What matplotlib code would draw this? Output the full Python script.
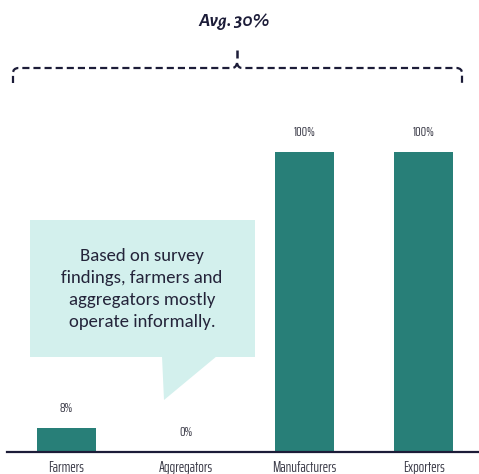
import matplotlib
matplotlib.use("Agg")
import matplotlib.pyplot as plt
from matplotlib.path import Path
from matplotlib.patches import PathPatch, Polygon, Rectangle

# Share of businesses operating formally, by value-chain actor
categories = ["Farmers", "Aggregators", "Manufacturers", "Exporters"]
formal_share = [8, 0, 100, 100]
value_labels = ["8%", "0%", "100%", "100%"]
average_label = "Avg. 30%"
note_text = "Based on survey\nfindings, farmers and\naggregators mostly\noperate informally."

BAR_COLOR = "#287f78"
NAVY = "#1c1c38"
TEXT_GREY = "#3b3b48"
CALLOUT = "#d3f0ed"
NARROW = ["Saira ExtraCondensed", "Saira Condensed", "DejaVu Sans"]
BODY = ["Carlito", "Lato", "DejaVu Sans"]
HEAD = ["Alegreya Sans", "Lato", "DejaVu Sans"]

W, H = 479, 474
fig = plt.figure(figsize=(W / 100, H / 100), dpi=100)

# Main chart: full-figure axes, scaled so bars sit on the baseline
ax = fig.add_axes([0, 0, 1, 1])
step = 119.0
x0 = 66.5
ax.set_xlim(-x0 / step, (W - x0) / step)
ax.set_ylim(-(H - 452) / 3.0, 452 / 3.0)
ax.axis("off")

xs = list(range(len(categories)))
ax.bar(xs, formal_share, width=0.5, color=BAR_COLOR, zorder=2)
ax.axhline(0, xmin=7 / W, xmax=1, color=NAVY, lw=1.6, zorder=3)

for x, v, lab in zip(xs, formal_share, value_labels):
    ax.text(x, v + 6.5, lab, ha="center", va="center", fontsize=10,
            family=NARROW, color=TEXT_GREY)
for x, cat in zip(xs, categories):
    ax.text(x, -5.2, cat, ha="center", va="center", fontsize=10.5,
            family=NARROW, color=TEXT_GREY)

# Overlay in pixel coordinates for the bracket and callout
ov = fig.add_axes([0, 0, 1, 1], facecolor="none")
ov.set_xlim(0, W)
ov.set_ylim(H, 0)
ov.axis("off")

# Dashed curly bracket spanning all categories
L, R, yb, ye, cx = 13, 462, 68, 83, 237
verts = [
    (L, ye), (L, 73), (L, 68.5), (L + 5, yb),
    (cx - 5, yb), (cx - 1, yb), (cx, 63), (cx, 63), (cx + 1, yb), (cx + 5, yb),
    (R - 5, yb), (R, 68.5), (R, 73), (R, ye),
]
codes = [
    Path.MOVETO, Path.LINETO, Path.CURVE3, Path.CURVE3,
    Path.LINETO, Path.CURVE3, Path.CURVE3, Path.MOVETO, Path.CURVE3, Path.CURVE3,
    Path.LINETO, Path.CURVE3, Path.CURVE3, Path.LINETO,
]
ov.add_patch(PathPatch(Path(verts, codes), fill=False, edgecolor=NAVY,
                       lw=1.6, linestyle=(0, (3.2, 1.8))))
ov.plot([cx, cx], [50, 58], color=NAVY, lw=1.8, solid_capstyle="butt")
ov.text(cx - 3, 22, average_label, ha="center", va="center", fontsize=14,
        fontweight="bold", fontstyle="italic", family=HEAD, color=NAVY)

# Speech-bubble callout
ov.add_patch(Rectangle((30, 220), 225, 137, facecolor=CALLOUT,
                       edgecolor="none", zorder=1))
ov.add_patch(Polygon([(162, 356), (217, 356), (164, 400)], closed=True,
                     facecolor=CALLOUT, edgecolor="none", zorder=1))
ov.text(142, 289, note_text, ha="center", va="center", fontsize=13.5,
        family=BODY, color="#24243a", linespacing=1.45, zorder=2)

fig.savefig("out.png", dpi=100)
